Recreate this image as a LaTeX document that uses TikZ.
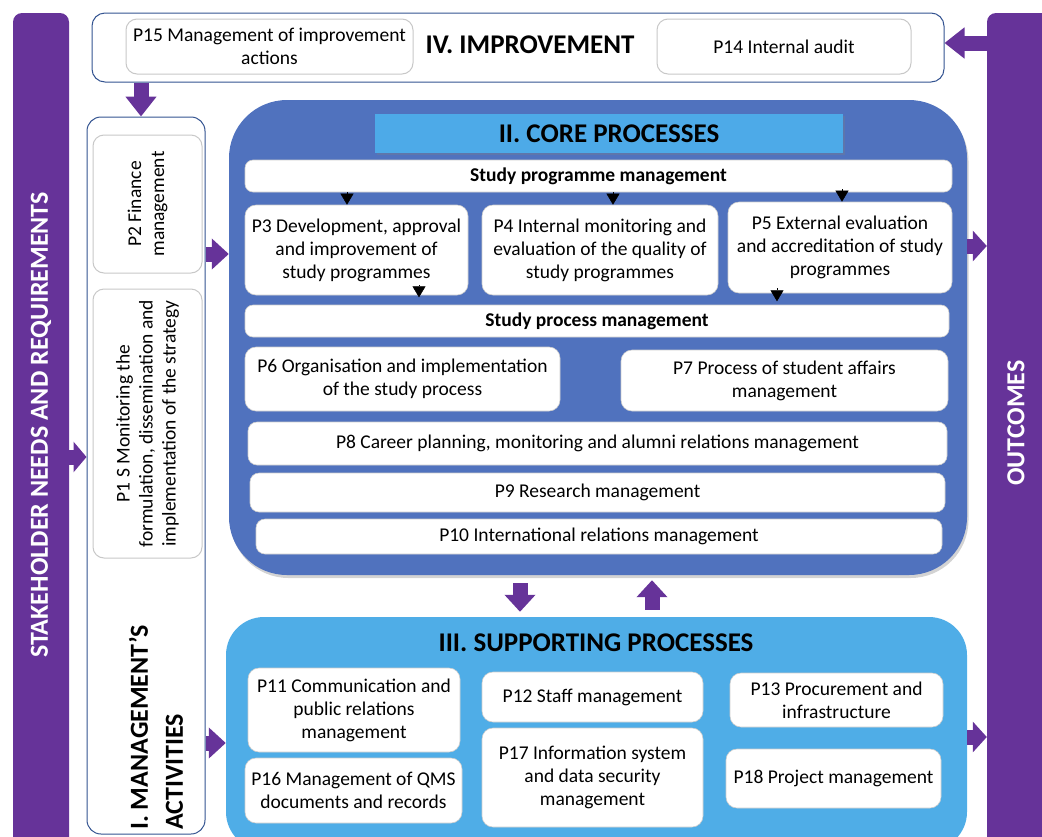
\documentclass[tikz,border=0pt]{standalone}
\usepackage{fontspec}
\setmainfont{Carlito}
\usetikzlibrary{arrows.meta,shadows}

\definecolor{stakepurple}{RGB}{102,51,153}
\definecolor{coreblue}{RGB}{80,114,190}
\definecolor{supblue}{RGB}{79,173,231}
\definecolor{titleblue}{RGB}{77,170,232}
\definecolor{frameblue}{RGB}{52,84,145}
\definecolor{edgegray}{RGB}{200,200,200}

% place a node by its corner coordinates: name, style, x1, y1, x2, y2, text
\newcommand\procnode[7]{%
  \node[#2, minimum width={(#5)-(#3)}, minimum height={(#6)-(#4)}]
    (#1) at ({((#3)+(#5))/2},{((#4)+(#6))/2}) {#7};}

\tikzset{
  bodytext/.style={font=\fontsize{19.5}{23}\selectfont, align=center, text=black},
  boldbody/.style={font=\fontsize{19.5}{23}\bfseries\selectfont},
  corebox/.style={bodytext, fill=white, draw=black!20, line width=0.6pt,
    rounded corners=11pt, inner sep=0pt},
  graybox/.style={bodytext, fill=white, draw=edgegray, line width=1pt,
    rounded corners=11pt, inner sep=0pt},
  frame/.style={fill=white, draw=frameblue, line width=1pt,
    rounded corners=13pt, inner sep=0pt},
  sidebar/.style={fill=stakepurple, draw=none, rounded corners=9pt, inner sep=0pt},
  bartext/.style={text=white, font=\fontsize{26}{30}\bfseries\selectfont,
    rotate=90, inner sep=0pt},
  headtext/.style={font=\fontsize{27}{30}\bfseries\selectfont, inner sep=0pt},
  bigarrow/.style={draw=stakepurple, line width=15pt,
    -{Triangle[width=30pt,length=#1]}},
  bigarrow/.default=17pt,
  flowtip/.style={draw=black, line width=0.5pt, -{Triangle[width=13pt,length=11pt]}},
}

\begin{document}
\begin{tikzpicture}[x=1pt,y=-1pt]
\useasboundingbox (0,0) rectangle (1042,836);
\clip (0,0) rectangle (1042,836);

% side bars
\procnode{stake}{sidebar}{13}{13}{69}{900}{}
\node[bartext] (staketext) at (41,425) {STAKEHOLDER NEEDS AND REQUIREMENTS};
\procnode{outc}{sidebar}{987}{13}{1100}{900}{}
\node[bartext] (outctext) at (1016,423) {OUTCOMES};

% IV. improvement frame
\procnode{improve}{frame}{92}{13}{944}{82}{}
\procnode{p15}{graybox}{126}{19}{413}{74}{P15 Management of improvement\\actions}
\node[headtext] (imptitle) at (530,45) {IV. IMPROVEMENT};
\procnode{p14}{graybox}{657}{19}{911}{74}{P14 Internal audit}

% I. management's activities
\procnode{mgmt}{frame, rounded corners=14pt}{87}{117}{205}{834}{}
\procnode{p2}{graybox}{93}{135}{202}{273}{}
\node[bodytext, rotate=90, inner sep=0pt] (p2text) at (p2) {P2 Finance\\management};
\procnode{p1}{graybox}{93}{289}{202}{558}{}
\node[bodytext, rotate=90, inner sep=0pt] (p1text) at (p1)
  {P1 S Monitoring the\\formulation, dissemination and\\implementation of the strategy};
\node[headtext, font=\fontsize{26}{35}\bfseries\selectfont, rotate=90, align=left,
  anchor=west] (mgmttitle) at (156,830) {I. MANAGEMENT'S\\ACTIVITIES};

% II. core processes
\procnode{core}{fill=coreblue, rounded corners=58pt, inner sep=0pt,
  drop shadow={shadow xshift=1.5pt, shadow yshift=-3pt, opacity=0.35}}{229}{100}{967}{575}{}
\procnode{coretitle}{headtext, fill=titleblue,
  drop shadow={shadow xshift=1.5pt, shadow yshift=-2pt, opacity=0.3}}{375}{114}{843}{153}{II. CORE PROCESSES}
\procnode{spm}{corebox, boldbody, rounded corners=8pt}{245}{160}{952}{192}{Study programme management}
\procnode{p3}{corebox}{245}{205}{468}{295}{P3 Development, approval\\and improvement of\\study programmes}
\procnode{p4}{corebox}{482}{205}{718}{295}{P4 Internal monitoring and\\evaluation of the quality of\\study programmes}
\procnode{p5}{corebox}{728}{202}{952}{293}{P5 External evaluation\\and accreditation of study\\programmes}
\procnode{spr}{corebox, boldbody, rounded corners=8pt}{245}{305}{949}{337}{Study process management}
\procnode{p6}{corebox}{245}{347}{560}{411}{P6 Organisation and implementation\\of the study process}
\procnode{p7}{corebox}{621}{350}{948}{411}{P7 Process of student affairs\\management}
\procnode{p8}{corebox, rounded corners=9pt}{248}{422}{947}{465}{P8 Career planning, monitoring and alumni relations management}
\procnode{p9}{corebox, rounded corners=9pt}{250}{473}{945}{512}{P9 Research management}
\procnode{p10}{corebox, rounded corners=9pt}{256}{519}{942}{554}{P10 International relations management}

% step markers inside the core block
\coordinate (tA) at (347,0);
\coordinate (tB) at (613,0);
\coordinate (tC) at (842,0);
\coordinate (tD) at (419,0);
\coordinate (tE) at (777,0);
\draw[flowtip] (spm.south -| tA) -- (p3.north -| tA);
\draw[flowtip] (spm.south -| tB) -- (p4.north -| tB);
\draw[flowtip] ([yshift=3pt]spm.south -| tC) -- (p5.north -| tC);
\draw[flowtip] ([yshift=10pt]p3.south -| tD) -- ([yshift=-2pt]p3.south -| tD);
\draw[flowtip] ([yshift=5pt]p5.south -| tE) -- ([yshift=-8pt]p5.south -| tE);

% III. supporting processes
\procnode{support}{fill=supblue, rounded corners=38pt, inner sep=0pt}{226}{617}{967}{850}{}
\node[headtext] (suptitle) at (596,643) {III. SUPPORTING PROCESSES};
\procnode{p11}{corebox}{248}{668}{460}{752}{P11 Communication and\\public relations\\management}
\procnode{p16}{corebox}{245}{758}{462}{823}{P16 Management of QMS\\documents and records}
\procnode{p12}{corebox}{482}{672}{703}{722}{P12 Staff management}
\procnode{p17}{corebox}{482}{728}{703}{827}{P17 Information system\\and data security\\management}
\procnode{p13}{corebox}{730}{673}{943}{727}{P13 Procurement and\\infrastructure}
\procnode{p18}{corebox}{726}{749}{941}{808}{P18 Project management}

% block arrows between the areas
\coordinate (lvStake) at (0,457);
\coordinate (lvCore) at (0,254);
\coordinate (lvSup) at (0,743);
\coordinate (lvOutA) at (0,246);
\coordinate (lvOutB) at (0,737);
\coordinate (lvAudit) at (0,43);
\coordinate (colImp) at (141,0);
\coordinate (colDown) at (520,0);
\coordinate (colUp) at (652,0);
\draw[bigarrow=13pt] (stake.east |- lvStake) -- (mgmt.west |- lvStake);
\draw[bigarrow] (mgmt.east |- lvCore) -- (core.west |- lvCore);
\draw[bigarrow] (mgmt.east |- lvSup) -- (support.west |- lvSup);
\draw[bigarrow=14pt] (core.east |- lvOutA) -- (outc.west |- lvOutA);
\draw[bigarrow=14pt] (support.east |- lvOutB) -- (outc.west |- lvOutB);
\draw[bigarrow=20pt] (outc.west |- lvAudit) -- (improve.east |- lvAudit);
\draw[bigarrow=20pt] (improve.south -| colImp) -- (mgmt.north -| colImp);
\draw[bigarrow] ([yshift=-8pt]core.south -| colDown) -- ([yshift=5pt]support.north -| colDown);
\draw[bigarrow] ([yshift=7pt]support.north -| colUp) -- ([yshift=-5pt]core.south -| colUp);
\end{tikzpicture}
\end{document}
